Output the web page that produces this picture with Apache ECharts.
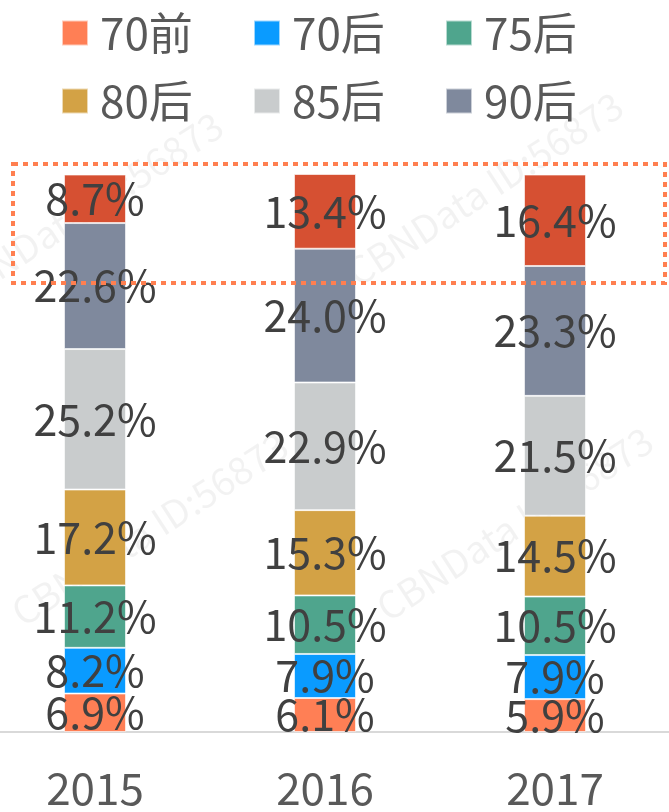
<!DOCTYPE html>
<html>
<head>
<meta charset="utf-8">
<script src="https://cdn.jsdelivr.net/npm/echarts@6/dist/echarts.min.js"></script>
<style>
  html, body { margin: 0; padding: 0; background: #fff; }
  #chart { width: 669px; height: 812px; }
</style>
</head>
<body>
<div id="chart"></div>
<script>
const years = ['2015', '2016', '2017'];
const groups = ['70前', '70后', '75后', '80后', '85后', '90后', '95后'];
const legendNames = ['70前', '70后', '75后', '80后', '85后', '90后'];
const colors = ['#FF7F55', '#0A9BFF', '#4FA58D', '#D3A245', '#C9CCCD', '#7F899D', '#D65032'];

const v70q = [6.9, 6.1, 5.9];
const v70h = [8.2, 7.9, 7.9];
const v75h = [11.2, 10.5, 10.5];
const v80h = [17.2, 15.3, 14.5];
const v85h = [25.2, 22.9, 21.5];
const v90h = [22.6, 24.0, 23.3];
const v95h = [8.7, 13.4, 16.4];
const values = [v70q, v70h, v75h, v80h, v85h, v90h, v95h];

const chart = echarts.init(document.getElementById('chart'));
const font = '"Noto Sans CJK SC", "Noto Sans", sans-serif';

const series = groups.map((g, i) => ({
  name: g,
  type: 'bar',
  stack: 'all',
  barWidth: 62,
  itemStyle: { color: colors[i], borderColor: 'rgba(255,255,255,0.6)', borderWidth: 1 },
  label: {
    show: true,
    position: 'inside',
    formatter: (p) => p.value.toFixed(1) + '%',
    color: '#404040',
    fontSize: 43,
    fontFamily: font
  },
  data: values[i]
}));

// faint diagonal watermark text
const watermark = (x, y) => ({
  type: 'text',
  x: x, y: y,
  rotation: Math.PI / 180 * 33,
  z: -1,
  style: { text: 'CBNData ID:56873', fill: 'rgba(0,0,0,0.05)', font: '38px ' + font }
});

const option = {
  animation: false,
  legend: {
    data: legendNames,
    left: 61,
    top: 8,
    padding: 0,
    width: 600,
    itemWidth: 26,
    itemHeight: 25,
    itemGap: 18,
    icon: 'rect',
    textStyle: {
      color: '#595959',
      fontSize: 44,
      fontFamily: font,
      width: 135,
      lineHeight: 50,
      padding: [0, 0, 0, 7]
    }
  },
  grid: { left: -20, right: -1, top: 174, bottom: 80, outerBoundsMode: 'none', containLabel: false },
  xAxis: {
    type: 'category',
    data: years,
    axisTick: { show: false },
    axisLine: { lineStyle: { color: '#D9D9D9', width: 2 } },
    axisLabel: { color: '#595959', fontSize: 44, fontFamily: font, margin: 34 }
  },
  yAxis: { type: 'value', min: 0, max: 100.1, show: false, splitLine: { show: false } },
  graphic: [
    watermark(-60, 280),
    watermark(5, 600),
    watermark(370, 595),
    watermark(340, 260),
    {
      type: 'rect',
      shape: { x: 13, y: 164, width: 652, height: 119 },
      style: { fill: 'none', stroke: '#FF7F50', lineWidth: 4, lineDash: [5, 5] },
      z: 10
    }
  ],
  series: series
};

chart.setOption(option);
</script>
</body>
</html>
